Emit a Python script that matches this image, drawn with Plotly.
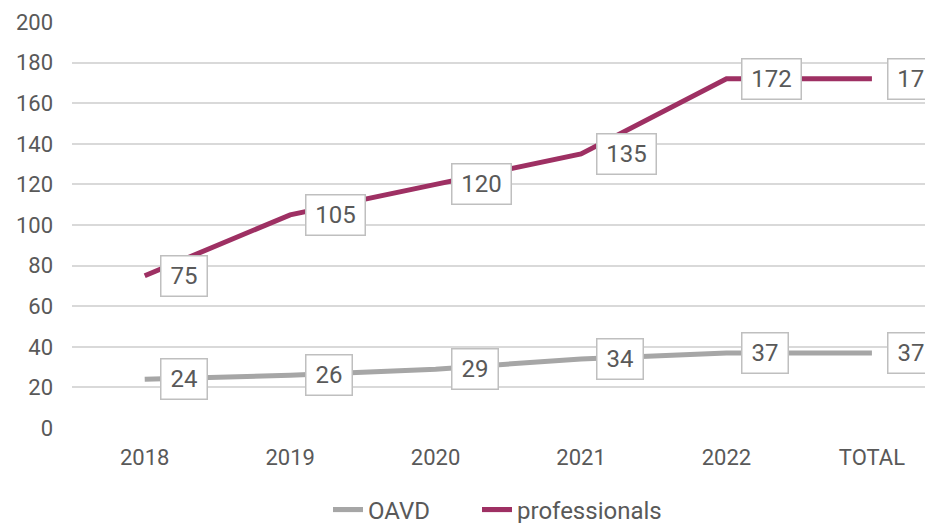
import plotly.graph_objects as go

categories = ["2018", "2019", "2020", "2021", "2022", "TOTAL"]
oavd = [24, 26, 29, 34, 37, 37]
professionals = [75, 105, 120, 135, 172, 172]
y_ticks = [0, 20, 40, 60, 80, 100, 120, 140, 160, 180, 200]

TXT = "#595959"
FONT = "Roboto"

fig = go.Figure()
fig.add_trace(go.Scatter(x=categories, y=oavd, name="OAVD", mode="lines",
                         line=dict(color="#A6A6A6", width=5), legend="legend"))
fig.add_trace(go.Scatter(x=categories, y=professionals, name="professionals", mode="lines",
                         line=dict(color="#9E3063", width=5), legend="legend2"))

for series in (oavd, professionals):
    for i, v in enumerate(series):
        w = 37 if v < 100 else 50
        fig.add_annotation(x=i, y=v, xref="x", yref="y", text=str(v),
                           showarrow=False, xanchor="left", yanchor="middle",
                           xshift=15, font=dict(family=FONT, size=24, color=TXT),
                           bgcolor="white", bordercolor="#BFBFBF", borderwidth=1.5,
                           borderpad=4, width=w, height=31, align="center")

leg_common = dict(orientation="h", xanchor="left", y=-0.202, yanchor="middle",
                  font=dict(family=FONT, size=24, color=TXT), bgcolor="rgba(0,0,0,0)")

# page body has an 8px margin, so the figure is 8px smaller and margins compensate
fig.update_layout(
    width=925, height=515,
    margin=dict(l=64, r=0, t=14, b=95, autoexpand=False),
    paper_bgcolor="white", plot_bgcolor="white",
    font=dict(family=FONT, size=22, color=TXT),
    showlegend=True,
    legend=dict(x=(328 - 72) / 861, **leg_common),
    legend2=dict(x=(477 - 72) / 861, **leg_common),
)
fig.update_xaxes(type="category", range=[-0.5, 5.42], showgrid=False, zeroline=False,
                 showline=False, automargin=False,
                 ticks="", ticklabelstandoff=14, tickfont=dict(size=22, color=TXT))
fig.update_yaxes(range=[0, 200], tickvals=y_ticks, showgrid=True, gridcolor="#D9D9D9",
                 gridwidth=1.5, zeroline=False, showline=False, ticks="", automargin=False,
                 ticklabelstandoff=18, tickfont=dict(size=22, color=TXT))

fig.write_html("out.html")
